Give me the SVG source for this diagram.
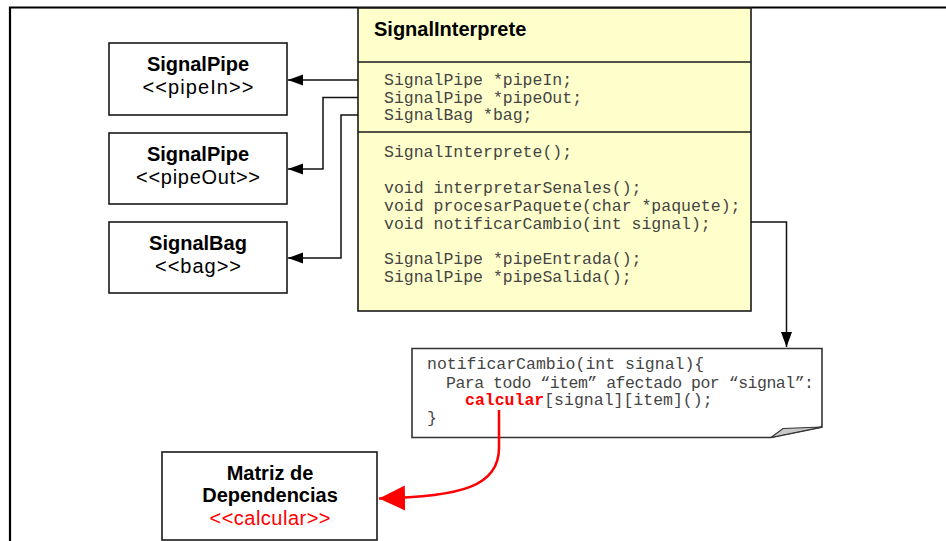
<svg xmlns="http://www.w3.org/2000/svg" width="946" height="541" viewBox="0 0 946 541">
<style>
.box{fill:#ffffff;stroke:#1a1a1a;stroke-width:1.6}
.cls{fill:#ffffcc;stroke:#1a1a1a;stroke-width:1.6}
.div{stroke:#1a1a1a;stroke-width:1.5}
.hd{font-family:"Liberation Sans",Arial,sans-serif;font-weight:bold;font-size:20px;fill:#000;text-anchor:middle}
.st{font-family:"Liberation Sans",Arial,sans-serif;font-size:20px;fill:#000;text-anchor:middle}
.mono{font-family:"Liberation Mono","Courier New",monospace;font-size:16.5px;fill:#444}
.con{fill:none;stroke:#111;stroke-width:1.5}
.red{fill:none;stroke:#ff0000;stroke-width:2.5}
</style>
<defs>
<marker id="ah" markerUnits="userSpaceOnUse" markerWidth="16" markerHeight="12" refX="15" refY="5.5" orient="auto" viewBox="0 0 16 12">
<path d="M0,0 L15,5.5 L0,11 z" fill="#000"/>
</marker>
<marker id="ahr" markerUnits="userSpaceOnUse" markerWidth="28" markerHeight="26" refX="26" refY="12.5" orient="auto" viewBox="0 0 28 26">
<path d="M0,0 L26,12.5 L0,25 z" fill="#ff0000"/>
</marker>
</defs>
<rect width="946" height="541" fill="#ffffff"/>
<path d="M10,541 L10,7.5 L946,7.5" fill="none" stroke="#000" stroke-width="2.2"/>

<g id="signalinterprete">
<rect class="cls" x="358" y="8" width="393" height="303"/>
<line class="div" x1="358" y1="62" x2="751" y2="62"/>
<line class="div" x1="358" y1="132" x2="751" y2="132"/>
<text x="374" y="36" class="hd" style="text-anchor:start">SignalInterprete</text>
<text class="mono" x="384" y="85">SignalPipe *pipeIn;</text>
<text class="mono" x="384" y="102.5">SignalPipe *pipeOut;</text>
<text class="mono" x="384" y="120">SignalBag *bag;</text>
<text class="mono" x="384" y="156.5">SignalInterprete();</text>
<text class="mono" x="384" y="192.5">void interpretarSenales();</text>
<text class="mono" x="384" y="210.5">void procesarPaquete(char *paquete);</text>
<text class="mono" x="384" y="228.5">void notificarCambio(int signal);</text>
<text class="mono" x="384" y="263.5">SignalPipe *pipeEntrada();</text>
<text class="mono" x="384" y="281.5">SignalPipe *pipeSalida();</text>
</g>

<g id="pipein">
<rect class="box" x="109" y="43" width="178" height="72"/>
<text class="hd" x="198" y="71">SignalPipe</text>
<text class="st" x="198" y="94" textLength="111" lengthAdjust="spacing">&lt;&lt;pipeIn&gt;&gt;</text>
</g>

<g id="pipeout">
<rect class="box" x="109" y="133" width="178" height="71"/>
<text class="hd" x="198" y="161">SignalPipe</text>
<text class="st" x="198" y="184" textLength="124" lengthAdjust="spacing">&lt;&lt;pipeOut&gt;&gt;</text>
</g>

<g id="bag">
<rect class="box" x="109" y="222" width="178" height="71"/>
<text class="hd" x="198" y="250">SignalBag</text>
<text class="st" x="198" y="273" textLength="86" lengthAdjust="spacing">&lt;&lt;bag&gt;&gt;</text>
</g>

<g id="note">
<path d="M412,348.5 L822,348.5 L822,427 L771,437.5 L412,437.5 Z" fill="#ffffff" stroke="#333" stroke-width="1.6"/>
<path d="M771,437.5 L783,428.5 L822,427 Z" fill="#c8c8c8" stroke="#333" stroke-width="1.2"/>
<text class="mono" x="427" y="369">notificarCambio(int signal){</text>
<text class="mono" x="446" y="387.5" textLength="368" lengthAdjust="spacing">Para todo “item” afectado por “signal”:</text>
<text class="mono" x="465" y="405"><tspan fill="#ff0000" font-weight="bold">calcular</tspan>[signal][item]();</text>
<text class="mono" x="427" y="422.5">}</text>
</g>

<g id="matriz">
<rect class="box" x="162" y="452" width="215" height="88"/>
<text class="hd" x="270" y="480">Matriz de</text>
<text class="hd" x="270" y="502">Dependencias</text>
<text class="st" x="270" y="525" style="fill:#ff0000" textLength="121" lengthAdjust="spacing">&lt;&lt;calcular&gt;&gt;</text>
</g>

<g id="connectors">
<path class="con" d="M358,80 L288,80" marker-end="url(#ah)"/>
<path class="con" d="M358,97.5 L323,97.5 L323,169 L288,169" marker-end="url(#ah)"/>
<path class="con" d="M358,115 L341,115 L341,258 L288,258" marker-end="url(#ah)"/>
<path class="con" d="M751,222 L786.5,222 L786.5,347" marker-end="url(#ah)"/>
<path class="red" d="M499,410 L499,448 C499,486 462,497 379,498.5" marker-end="url(#ahr)"/>
</g>
</svg>
